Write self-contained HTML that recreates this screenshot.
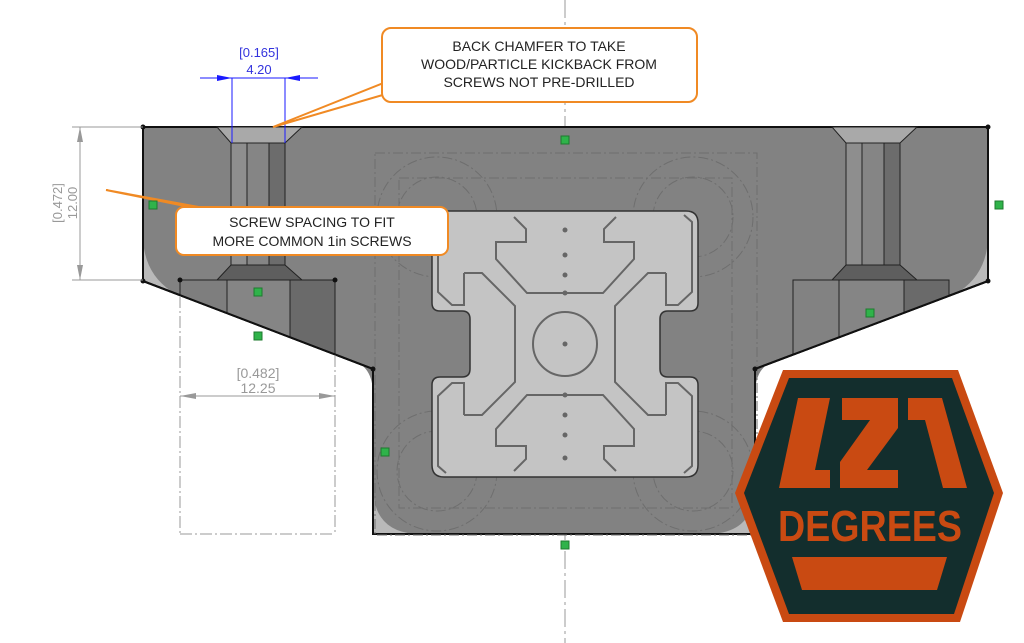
<!DOCTYPE html>
<html><head><meta charset="utf-8"><style>
html,body{margin:0;padding:0;background:#fff;}
svg{display:block;}
text{font-family:"Liberation Sans",sans-serif;}
</style></head><body>
<svg width="1024" height="643" viewBox="0 0 1024 643" xmlns="http://www.w3.org/2000/svg">
<line x1="565" y1="0" x2="565" y2="643" stroke="#999" stroke-width="1" stroke-dasharray="18,4,3,4"/>

<path d="M143,127 H988 V281 L755,369 V534 H373 V369 L143,281 Z" fill="#b9b9b9" stroke="#111" stroke-width="2"/>
<path d="M143,127 H988 V235 Q988,272 960,291 L768,364 Q755,372 755,395 V486 Q755,534 707,534 H421 Q373,534 373,486 V395 Q373,372 360,364 L171,291 Q143,272 143,235 Z" fill="#828282"/>
<path d="M143,127 H988 V281 L755,369 V534 H373 V369 L143,281 Z" fill="none" stroke="#111" stroke-width="2"/>

<g fill="none" stroke="#6e6e6e" stroke-width="1" stroke-dasharray="10,3,2,3">
<rect x="375" y="153" width="382" height="382"/>
<rect x="399" y="178" width="333" height="330"/>
<circle cx="437" cy="217" r="60"/><circle cx="693" cy="217" r="60"/>
<circle cx="437" cy="471" r="60"/><circle cx="693" cy="471" r="60"/>
<circle cx="437" cy="217" r="40"/><circle cx="693" cy="217" r="40"/>
<circle cx="437" cy="471" r="40"/><circle cx="693" cy="471" r="40"/>
</g>

<path d="M444,211 H686 Q698,211 698,223 V303 Q698,311 690,311 H668 Q660,311 660,319 V369 Q660,377 668,377 H690 Q698,377 698,385 V465 Q698,477 686,477 H444 Q432,477 432,465 V385 Q432,377 440,377 H462 Q470,377 470,369 V319 Q470,311 462,311 H440 Q432,311 432,303 V223 Q432,211 444,211 Z" fill="#c4c4c4" stroke="#333" stroke-width="1.5"/>

<g fill="none" stroke="#666" stroke-width="2">
<g id="q">
<polyline points="514,217 526,229 526,242 496,242 496,259 527,293 566,293"/>
<polyline points="464,273 482,273 515,306 515,344"/>
<polyline points="464,273 464,305 452,305 438,292 438,222 446,215"/>
</g>
<use href="#q" transform="translate(1130,0) scale(-1,1)"/>
<use href="#q" transform="translate(0,688) scale(1,-1)"/>
<use href="#q" transform="translate(1130,688) scale(-1,-1)"/>
<circle cx="565" cy="344" r="32"/>
</g>
<g fill="#666">
<circle cx="565" cy="230" r="2.5"/><circle cx="565" cy="255" r="2.5"/><circle cx="565" cy="275" r="2.5"/>
<circle cx="565" cy="293" r="2.5"/><circle cx="565" cy="344" r="2.5"/><circle cx="565" cy="395" r="2.5"/>
<circle cx="565" cy="415" r="2.5"/><circle cx="565" cy="435" r="2.5"/><circle cx="565" cy="458" r="2.5"/>
</g>

<!-- left hole -->
<g stroke="#222" stroke-width="1">
<polygon points="217,127 302,127 285,143 231,143" fill="#a9a9a9"/>
<rect x="231" y="143" width="16" height="122" fill="#8e8e8e"/>
<rect x="247" y="143" width="22" height="122" fill="#858585"/>
<rect x="269" y="143" width="16" height="122" fill="#6c6c6c"/>
<polygon points="231,265 285,265 302,280 217,280" fill="#5e5e5e"/>
<polygon points="180,280 227,280 227,313 180,295" fill="#7e7e7e"/>
<polygon points="227,280 290,280 290,337 227,313" fill="#858585"/>
<polygon points="290,280 335,280 335,354 290,337" fill="#6a6a6a"/>
</g>
<!-- right hole -->
<g stroke="#222" stroke-width="1">
<polygon points="832,127 917,127 900,143 846,143" fill="#a9a9a9"/>
<rect x="846" y="143" width="16" height="122" fill="#8e8e8e"/>
<rect x="862" y="143" width="22" height="122" fill="#858585"/>
<rect x="884" y="143" width="16" height="122" fill="#6c6c6c"/>
<polygon points="846,265 900,265 917,280 832,280" fill="#5e5e5e"/>
<polygon points="793,280 839,280 839,337 793,355" fill="#828282"/>
<polygon points="839,280 904,280 904,313 839,337" fill="#858585"/>
<polygon points="904,280 949,280 949,296 904,313" fill="#6a6a6a"/>
</g>
<path d="M143,281 L373,369 M988,281 L755,369" stroke="#111" stroke-width="2"/>
<circle cx="180" cy="280" r="2.5" fill="#111"/><circle cx="335" cy="280" r="2.5" fill="#111"/>
<circle cx="143" cy="127" r="2.5" fill="#111"/><circle cx="988" cy="127" r="2.5" fill="#111"/>
<circle cx="143" cy="281" r="2.5" fill="#111"/><circle cx="988" cy="281" r="2.5" fill="#111"/>
<circle cx="373" cy="369" r="2.5" fill="#111"/><circle cx="755" cy="369" r="2.5" fill="#111"/>

<g stroke="#999" stroke-width="1" fill="none">
<line x1="72" y1="127" x2="143" y2="127"/><line x1="72" y1="280" x2="143" y2="280"/>
<line x1="80" y1="127" x2="80" y2="280"/>
</g>
<polygon points="80,127 77,142 83,142" fill="#999"/><polygon points="80,280 77,265 83,265" fill="#999"/>
<text transform="translate(62,203) rotate(-90)" text-anchor="middle" font-size="13" fill="#999">[0.472]</text>
<text transform="translate(77,203) rotate(-90)" text-anchor="middle" font-size="13" fill="#999">12.00</text>

<g stroke="#1a1aff" stroke-width="1">
<line x1="232" y1="78" x2="232" y2="143"/><line x1="285" y1="78" x2="285" y2="143"/>
<line x1="200" y1="78" x2="318" y2="78"/>
</g>
<polygon points="232,78 217,75 217,81" fill="#1a1aff"/><polygon points="285,78 300,75 300,81" fill="#1a1aff"/>
<text x="259" y="57" text-anchor="middle" font-size="13" fill="#3333dd">[0.165]</text>
<text x="259" y="74" text-anchor="middle" font-size="13" fill="#3333dd">4.20</text>

<g stroke="#999" stroke-width="1" fill="none" stroke-dasharray="12,3,2,3">
<line x1="180" y1="296" x2="180" y2="533"/><line x1="335" y1="355" x2="335" y2="533"/>
<line x1="180" y1="534" x2="335" y2="534"/>
</g>
<line x1="180" y1="396" x2="335" y2="396" stroke="#999"/>
<polygon points="180,396 196,393 196,399" fill="#999"/><polygon points="335,396 319,393 319,399" fill="#999"/>
<text x="258" y="378" text-anchor="middle" font-size="14" fill="#999">[0.482]</text>
<text x="258" y="393" text-anchor="middle" font-size="14" fill="#999">12.25</text>

<polygon points="386,82 273,127 386,94" fill="#fff" stroke="#f08a24" stroke-width="2"/>
<rect x="382" y="28" width="315" height="74" rx="9" fill="#fff" stroke="#f08a24" stroke-width="2"/>
<text x="539" y="51" text-anchor="middle" font-size="14" fill="#222">BACK CHAMFER TO TAKE</text>
<text x="539" y="69" text-anchor="middle" font-size="14" fill="#222">WOOD/PARTICLE KICKBACK FROM</text>
<text x="539" y="87" text-anchor="middle" font-size="14" fill="#222">SCREWS NOT PRE-DRILLED</text>

<polygon points="190,207 106,190 215,210" fill="#fff" stroke="#f08a24" stroke-width="2"/>
<rect x="176" y="207" width="272" height="48" rx="8" fill="#fff" stroke="#f08a24" stroke-width="2"/>
<text x="312" y="227" text-anchor="middle" font-size="14" fill="#222">SCREW SPACING TO FIT</text>
<text x="312" y="246" text-anchor="middle" font-size="14" fill="#222">MORE COMMON 1in SCREWS</text>

<g fill="#2fb34a" stroke="#1d7a2e" stroke-width="1">
<rect x="561" y="136" width="8" height="8"/><rect x="149" y="201" width="8" height="8"/>
<rect x="995" y="201" width="8" height="8"/><rect x="254" y="288" width="8" height="8"/>
<rect x="254" y="332" width="8" height="8"/><rect x="866" y="309" width="8" height="8"/>
<rect x="381" y="448" width="8" height="8"/><rect x="561" y="541" width="8" height="8"/>
</g>

<polygon points="783,370 958,370 1003,493 960,622 783,622 735,493" fill="#c94a12"/>
<polygon points="789,378 952,378 994,493 954,614 789,614 744,493" fill="#132e2d"/>
<g fill="#c94a12">
<polygon points="798,398 830,398 815,470 830,470 830,488 779,488"/>
<polygon points="842,398 898,398 898,428 867,470 898,470 898,488 840,488 840,462 870,420 842,420"/>
<polygon points="908,398 942,398 967,488 943,488 925,420 908,420"/>
<polygon points="792,557 947,557 937,590 802,590"/>
</g>
<text x="870" y="541" text-anchor="middle" font-size="44" font-weight="bold" fill="#c94a12" textLength="184" lengthAdjust="spacingAndGlyphs">DEGREES</text>
</svg>
</body></html>
